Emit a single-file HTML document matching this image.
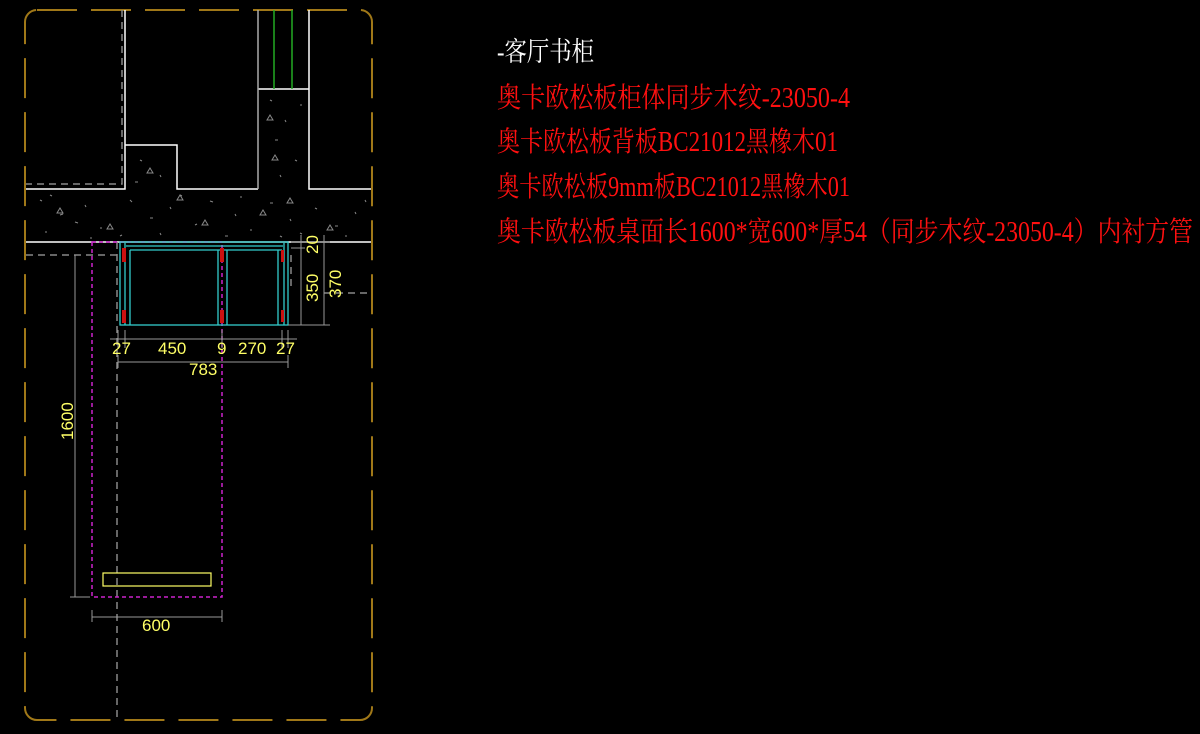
<!DOCTYPE html>
<html><head><meta charset="utf-8"><style>
html,body{margin:0;padding:0;background:#000;}
svg{display:block}
text{font-family:"Liberation Serif","Noto Serif CJK SC",serif;}
.d{font-family:"Liberation Sans",sans-serif;fill:#ffff66;font-size:17px;}
</style></head><body>
<svg width="1200" height="734" viewBox="0 0 1200 734" xmlns="http://www.w3.org/2000/svg">
<rect width="1200" height="734" fill="#000"/>
<rect x="25" y="10" width="347" height="710" rx="12" fill="none" stroke="#a07818" stroke-width="2" stroke-dasharray="40,14"/>
<g stroke="#888" stroke-width="1" fill="none">
<path d="M40 200l2 1M60 215l3-1M85 205l1 2M100 228l2 0M130 200l2 2M150 218l3 0M170 207l1 2M195 225l2-1M210 201l3 1M235 214l1 2M250 230l2 0M270 203l3 0M290 219l1 2M315 208l2 1M335 226l3 0M355 212l1 2M45 232l2 0M75 222l3 1M120 236l2-1M160 233l1 2M225 236l3 0M280 236l2 1M345 236l2 0M140 160l2 1M160 175l1 2M135 182l3 0M270 100l2 1M285 120l1 2M275 140l3 0M295 160l2 1M280 175l1 2M300 105l2 0M50 195l2 1M90 238l2 0M180 195l2 1M240 197l2 0M300 233l2 1M365 200l1 2"/>
<path d="M60 208l3 5h-6zM110 224l3 5h-6zM205 220l3 5h-6zM263 210l3 5h-6zM330 225l3 5h-6zM150 168l3 5h-6zM270 115l3 5h-6zM275 155l3 5h-6zM180 195l3 5h-6zM290 198l3 5h-6z"/>
</g>
<g stroke="#fff" stroke-width="1.5" fill="none">
<path d="M125 10V189H26"/>
<path d="M125 145H177V189H258"/>
<path d="M258 89H309"/>
<path d="M309 10V189H371"/>
<path d="M26 242H371"/>
</g>
<line x1="258" y1="10" x2="258" y2="189" stroke="#aaa" stroke-width="1.5"/>
<line x1="274" y1="10" x2="274" y2="89" stroke="#22aa22" stroke-width="1.5"/>
<line x1="292" y1="10" x2="292" y2="89" stroke="#22aa22" stroke-width="1.5"/>
<g stroke="#888" stroke-width="1.5" stroke-dasharray="7,5" fill="none">
<path d="M122 10V184H26"/>
<path d="M117 242V720"/>
<path d="M26 255H118"/>
<path d="M324 293H372"/>
<path d="M291 255V290"/>
</g>
<rect x="92" y="242" width="130" height="355" fill="none" stroke="#cc22cc" stroke-width="1.5" stroke-dasharray="4,3"/>
<g stroke="#33cccc" stroke-width="1.3" fill="none">
<rect x="120" y="242" width="168" height="83"/>
<path d="M125 243V325M130 250V325M126 246H283M130 250H282M218 250V325M227 250V325M278 250V325M284 243V325"/>
</g>
<g fill="#cc1111">
<rect x="122" y="248" width="4" height="14"/><rect x="122" y="310" width="4" height="13"/>
<rect x="220" y="248" width="4" height="14"/><rect x="220" y="310" width="4" height="13"/>
<rect x="281" y="250" width="3" height="12"/><rect x="281" y="310" width="3" height="12"/>
</g>
<g stroke="#999" stroke-width="1" fill="none">
<path d="M110 339H297M118 330V348M125 330V348M222 330V348M282 330V348M288 330V348"/>
<path d="M118 362H288M118 355V368M288 355V368"/>
<path d="M301 235V325M324 235V325M288 325H330M291 242H330M291 248H305"/>
<path d="M75 255V597M70 597H90"/>
<path d="M92 617H222M92 610V622M222 610V622"/>
</g>
<text class="d" x="112" y="354">27</text>
<text class="d" x="158" y="354">450</text>
<text class="d" x="217" y="354">9</text>
<text class="d" x="238" y="354">270</text>
<text class="d" x="276" y="354">27</text>
<text class="d" x="189" y="375">783</text>
<text class="d" x="142" y="631">600</text>
<text class="d" transform="translate(73,440) rotate(-90)">1600</text>
<text class="d" transform="translate(318,302) rotate(-90)">350</text>
<text class="d" transform="translate(341,298) rotate(-90)">370</text>
<text class="d" transform="translate(318,254) rotate(-90)">20</text>
<rect x="103" y="573" width="108" height="13" fill="none" stroke="#ffff66" stroke-width="1.2"/>
<text x="497" y="61" fill="#fff" font-size="27" textLength="97" lengthAdjust="spacingAndGlyphs">-客厅书柜</text>
<g fill="#ff1010" font-size="28">
<text x="497" y="107" textLength="353" lengthAdjust="spacingAndGlyphs">奥卡欧松板柜体同步木纹-23050-4</text>
<text x="497" y="151" textLength="341" lengthAdjust="spacingAndGlyphs">奥卡欧松板背板BC21012黑橡木01</text>
<text x="497" y="196" textLength="353" lengthAdjust="spacingAndGlyphs">奥卡欧松板9mm板BC21012黑橡木01</text>
<text x="497" y="241" textLength="696" lengthAdjust="spacingAndGlyphs">奥卡欧松板桌面长1600*宽600*厚54（同步木纹-23050-4）内衬方管</text>
</g>
</svg>
</body></html>
